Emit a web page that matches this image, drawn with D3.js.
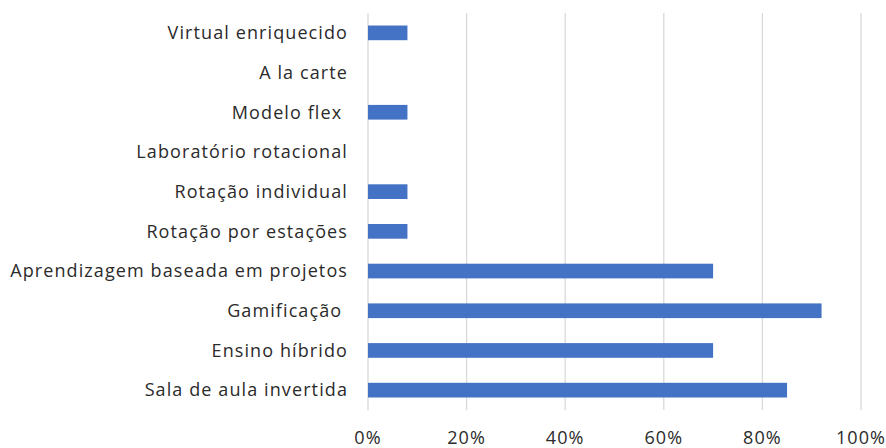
<!DOCTYPE html>
<html><head><meta charset="utf-8">
<script src="https://cdn.jsdelivr.net/npm/d3@7"></script>
<style>body{margin:0;background:#fff}svg text{font-family:"Open Sans",sans-serif;fill:#2b2b2b;letter-spacing:1.1px;white-space:pre}</style>
</head><body><svg id="c" width="886" height="448"></svg>
<script>
const categories = ["Virtual enriquecido","A la carte","Modelo flex ","Laboratório rotacional","Rotação individual","Rotação por estações","Aprendizagem baseada em projetos","Gamificação ","Ensino híbrido","Sala de aula invertida"];
const values = [8, 0, 8, 0, 8, 8, 70, 92, 70, 85];
const tickValues = [0, 20, 40, 60, 80, 100];

const svg = d3.select("#c");
const x = d3.scaleLinear().domain([0, 100]).range([368, 861]);
const y = d3.scaleBand().domain(categories).range([13, 410]).paddingInner(0.63).paddingOuter(0.315);

svg.append("g").selectAll("line").data(tickValues).join("line")
  .attr("x1", d => x(d)).attr("x2", d => x(d))
  .attr("y1", 13).attr("y2", 410)
  .attr("stroke", "#d9d9d9").attr("stroke-width", 1.3);

svg.append("g").selectAll("rect").data(categories).join("rect")
  .attr("x", x(0)).attr("y", d => y(d))
  .attr("width", (d, i) => x(values[i]) - x(0))
  .attr("height", y.bandwidth())
  .attr("fill", "#4472C4");

svg.append("g").selectAll("text").data(categories).join("text")
  .attr("x", 348).attr("y", d => y(d) + y.bandwidth() / 2)
  .attr("dy", "0.35em").attr("text-anchor", "end")
  .attr("font-size", 18).text(d => d);

svg.append("g").selectAll("text").data(tickValues).join("text")
  .attr("x", d => x(d)).attr("y", 438)
  .attr("dy", "0.35em").attr("text-anchor", "middle")
  .attr("font-size", 18).text(d => d + "%");
</script></body></html>
